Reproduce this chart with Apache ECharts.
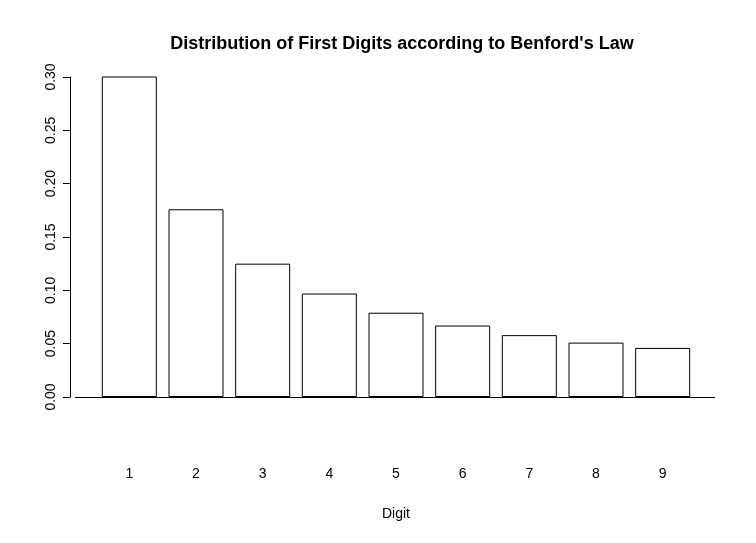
<!DOCTYPE html>
<html><head><meta charset="utf-8">
<script src="https://cdn.jsdelivr.net/npm/echarts@6/dist/echarts.min.js"></script>
<style>html,body{margin:0;padding:0;background:#fff}#c{width:756px;height:543px}</style>
</head><body><div id="c"></div>
<script>
const categories = ['1','2','3','4','5','6','7','8','9'];
const proportions = [0.301, 0.176, 0.125, 0.097, 0.079, 0.067, 0.058, 0.051, 0.046];
const yTicks = ['0.00','0.05','0.10','0.15','0.20','0.25','0.30'];
const F = 'Liberation Sans, Arial, sans-serif';
const chart = echarts.init(document.getElementById('c'));
chart.setOption({
  animation:false,
  title:{text:"Distribution of First Digits according to Benford's Law",left:397,top:30,textAlign:'center',
    textStyle:{fontFamily:F,fontSize:18,fontWeight:'bold',color:'#000'}},
  grid:{left:96,right:60,top:77,bottom:146,containLabel:false,outerBoundsMode:'none'},
  xAxis:{type:'category',data:categories,axisLine:{show:false},axisTick:{show:false},
    axisLabel:{margin:70,fontFamily:F,fontSize:14,color:'#000'},
    name:'Digit',nameLocation:'middle',nameGap:110,nameTextStyle:{fontFamily:F,fontSize:14,color:'#000'}},
  yAxis:{type:'value',min:0,max:0.30,interval:0.05,offset:26,splitLine:{show:false},
    axisLine:{show:true,lineStyle:{color:'#000'}},axisTick:{show:true,length:7,lineStyle:{color:'#000'}},
    axisLabel:{rotate:90,margin:12,fontFamily:F,fontSize:14,color:'#000',
      formatter:v=>yTicks[Math.round(v/0.05)]},
    name:'Proportion of Digits',nameLocation:'middle',nameGap:74,
    nameTextStyle:{fontFamily:F,fontSize:14,color:'#000'}},
  graphic:[{type:'line',shape:{x1:75,y1:397.5,x2:715,y2:397.5},style:{stroke:'#000',lineWidth:1}}],
  series:[{type:'bar',data:proportions,barWidth:55,
    itemStyle:{color:'#fff',borderColor:'#000',borderWidth:1}}]
});
</script></body></html>
